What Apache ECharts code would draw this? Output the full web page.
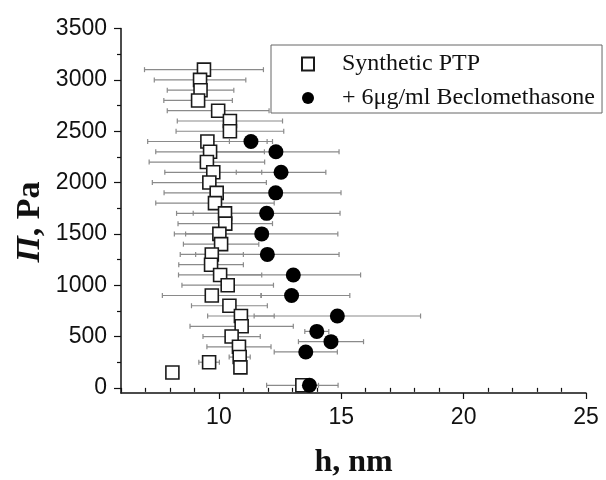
<!DOCTYPE html>
<html>
<head>
<meta charset="utf-8">
<script src="https://cdn.jsdelivr.net/npm/echarts@6/dist/echarts.min.js"></script>
<style>html,body{margin:0;padding:0;background:#fff}#c{width:606px;height:480px}</style>
</head>
<body>
<div id="c"></div>
<script>
// Synthetic PTP (open squares): pressure (Pa), film thickness h (nm), error half-width (nm)
const sqP   = [3100,3000,2900,2800,2700,2600,2500,2400,2300,2200,2100,2000,1900,1800,1700,1600,1500,1400,1300,1200,1100,1000,900,800,700,600,500,400,300,250,200,150,25];
const sqH   = [9.39,9.23,9.25,9.15,9.97,10.45,10.45,9.53,9.64,9.51,9.77,9.61,9.91,9.84,10.25,10.26,10.02,10.09,9.71,9.68,10.05,10.36,9.71,10.43,10.9,10.93,10.52,10.82,10.85,9.6,10.88,8.1,13.41];
const sqErr = [2.43,1.87,1.36,1.40,2.08,2.15,2.2,2.44,2.22,2.36,1.98,2.33,2.15,2.42,1.98,1.93,1.84,1.54,1.29,1.32,1.70,1.87,2.02,1.55,1.36,2.11,1.17,1.31,0.43,0.42,0,0,1.46];

// + 6 μg/ml Beclomethasone (filled circles)
const ciP    = [2400,2300,2100,1900,1700,1500,1300,1100,900,700,550,450,350,25];
const ciH    = [11.31,12.33,12.54,12.32,11.95,11.75,11.98,13.04,12.97,14.84,14.0,14.58,13.55,13.7];
const ciErrL = [0.88,2.58,1.83,2.67,3.0,3.11,2.93,2.75,1.25,3.4,0.49,1.33,1.29,0.37];
const ciErrR = [0.88,2.58,1.83,2.67,3.0,3.11,2.93,2.75,2.38,3.4,0.49,1.33,1.29,0.37];

const xMajor = [10,15,20,25];
const xMinor = [6,7,8,9,11,12,13,14,16,17,18,19,21,22,23,24];
const yMajor = [0,500,1000,1500,2000,2500,3000,3500];
const yMinor = [250,750,1250,1750,2250,2750,3250];

const nameSq = 'Synthetic PTP';
const nameCi = '+ 6\u03bcg/ml Beclomethasone';

const sqData  = sqP.map((p,i)=>[sqH[i], p]);
const ciData  = ciP.map((p,i)=>[ciH[i], p]);
const sqErrData = sqP.map((p,i)=>[sqH[i]-sqErr[i], sqH[i]+sqErr[i], p]);
const ciErrData = ciP.map((p,i)=>[ciH[i]-ciErrL[i], ciH[i]+ciErrR[i], p]);

function errRender(params, api){
  const lo = api.value(0), hi = api.value(1), y = api.value(2);
  const a = api.coord([lo, y]), b = api.coord([hi, y]);
  const cap = 2.5;
  const st = {stroke:'#8a8a8a', lineWidth:1.2};
  return {type:'group', children:[
    {type:'line', shape:{x1:a[0],y1:a[1],x2:b[0],y2:b[1]}, style:st},
    {type:'line', shape:{x1:a[0],y1:a[1]-cap,x2:a[0],y2:a[1]+cap}, style:st},
    {type:'line', shape:{x1:b[0],y1:b[1]-cap,x2:b[0],y2:b[1]+cap}, style:st}
  ]};
}

const labelStyle = {fontFamily:'Liberation Sans', fontSize:23, color:'#111'};
const axLine = {show:true, onZero:false, lineStyle:{color:'#111', width:1.5}};

const chart = echarts.init(document.getElementById('c'), null, {renderer:'canvas'});
chart.setOption({
  animation:false,
  backgroundColor:'#fff',
  grid:{left:121, right:20, top:28.6, bottom:87, containLabel:false, outerBoundsMode:'none'},
  legend:{
    orient:'vertical', left:271, top:45,
    padding:[7,7,3,30], itemGap:10,
    itemWidth:12, itemHeight:13,
    borderColor:'#666', borderWidth:1, backgroundColor:'#fff',
    textStyle:{fontFamily:'Liberation Serif', fontSize:24, color:'#111', padding:[0,0,0,23]},
    data:[{name:nameSq, icon:'rect'},{name:nameCi, icon:'circle'}]
  },
  graphic:[{
    type:'text', x:30, y:222, rotation:Math.PI/2,
    style:{
      text:'{a|\u03a0}{b|, Pa}', align:'center', verticalAlign:'middle',
      rich:{
        a:{fontFamily:'Liberation Serif', fontWeight:'bold', fontStyle:'italic', fontSize:34, fill:'#111'},
        b:{fontFamily:'Liberation Serif', fontWeight:'bold', fontSize:34, fill:'#111'}
      }
    }
  }],
  xAxis:[{
    type:'value', min:6, max:25,
    axisLine:axLine,
    axisTick:{show:true, customValues:xMajor, length:6, lineStyle:{color:'#111', width:1.2}},
    axisLabel:Object.assign({customValues:xMajor, margin:13}, labelStyle),
    splitLine:{show:false},
    name:'h, nm', nameLocation:'middle', nameGap:54,
    nameTextStyle:{fontFamily:'Liberation Serif', fontWeight:'bold', fontSize:32, color:'#111'}
  },{
    type:'value', min:6, max:25, position:'bottom',
    axisLine:{show:false},
    axisTick:{show:true, customValues:xMinor, length:4, lineStyle:{color:'#111', width:1.2}},
    axisLabel:{show:false}, splitLine:{show:false}
  }],
  yAxis:[{
    type:'value', min:-50, max:3500,
    axisLine:axLine,
    axisTick:{show:true, customValues:yMajor, length:7, lineStyle:{color:'#111', width:1.2}},
    axisLabel:Object.assign({customValues:yMajor, margin:14, formatter:v=>String(v)}, labelStyle),
    splitLine:{show:false}
  },{
    type:'value', min:-50, max:3500, position:'left',
    axisLine:{show:false},
    axisTick:{show:true, customValues:yMinor, length:4, lineStyle:{color:'#111', width:1.2}},
    axisLabel:{show:false}, splitLine:{show:false}
  }],
  series:[
    {type:'custom', name:'errSq', renderItem:errRender, data:sqErrData, encode:{x:[0,1], y:2}, z:1, silent:true},
    {type:'custom', name:'errCi', renderItem:errRender, data:ciErrData, encode:{x:[0,1], y:2}, z:1, silent:true},
    {type:'scatter', name:nameSq, data:sqData, symbol:'rect', symbolSize:13, z:3,
      itemStyle:{color:'#fff', borderColor:'#1a1a1a', borderWidth:1.6, opacity:1}},
    {type:'scatter', name:nameCi, data:ciData, symbol:'circle', symbolSize:15, z:4,
      itemStyle:{color:'#000', opacity:1}}
  ]
});
</script>
</body>
</html>
